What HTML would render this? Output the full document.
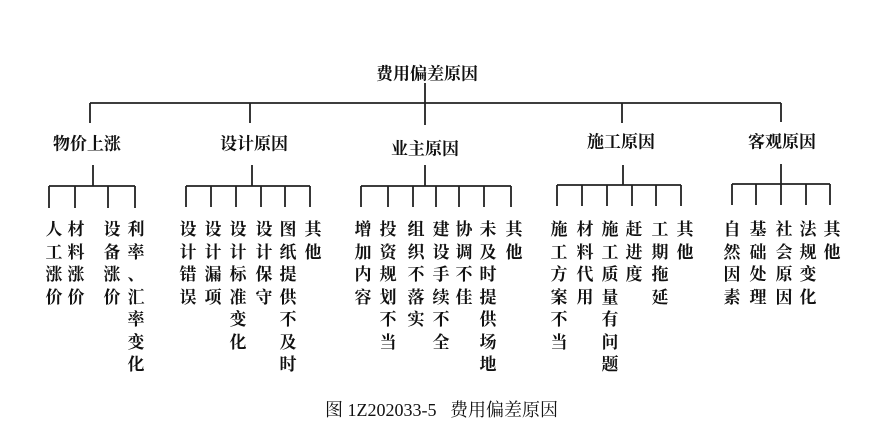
<!DOCTYPE html>
<html><head><meta charset="utf-8"><style>
body{margin:0;background:#fff;}
#c{position:relative;width:883px;height:429px;overflow:hidden;background:#fff;font-family:"Liberation Serif","Noto Serif CJK SC","Noto Sans CJK SC",serif;color:#111;}
.t{position:absolute;font-size:17px;font-weight:bold;white-space:nowrap;transform:translate(-50%,-50%);}
.v{position:absolute;top:219px;width:18px;font-size:17px;line-height:22.5px;font-weight:bold;text-align:center;transform:translateX(-50%);word-break:break-all;}
.cap{position:absolute;left:325px;top:396px;font-size:18px;white-space:pre;}
svg{position:absolute;left:0;top:0;}
</style></head><body><div id="c">
<svg width="883" height="429" stroke="#222" stroke-width="1.8" fill="none">
<path d="M425 83V125M90 103H781M90 103V123M250 103V123M622 103V123M781 103V122"/>
<path d="M93 165V186M49 186H135M49 186V208M75 186V208M108 186V208M135 186V208"/>
<path d="M252 165V186M186 186H310M186 186V207M211 186V207M236 186V207M261 186V207M285 186V207M310 186V207"/>
<path d="M425 165V186M361 186H511M361 186V207M388 186V207M413 186V207M436 186V207M459 186V207M484 186V207M511 186V207"/>
<path d="M623 165V185M557 185H681M557 185V206M582 185V206M607 185V206M632 185V206M656 185V206M681 185V206"/>
<path d="M781 164V184M732 184H830M732 184V205M756 184V205M781 184V205M806 184V205M830 184V205"/>
</svg>
<div class="t" style="left:427px;top:72px">费用偏差原因</div>
<div class="t" style="left:87px;top:142px">物价上涨</div>
<div class="t" style="left:254px;top:142px">设计原因</div>
<div class="t" style="left:425px;top:147px">业主原因</div>
<div class="t" style="left:621px;top:140px">施工原因</div>
<div class="t" style="left:782px;top:140px">客观原因</div>

<div class="v" style="left:54px">人工涨价</div>
<div class="v" style="left:76px">材料涨价</div>
<div class="v" style="left:112px">设备涨价</div>
<div class="v" style="left:136px">利<br>率<br>、<br>汇<br>率<br>变<br>化</div>

<div class="v" style="left:188px">设计错误</div>
<div class="v" style="left:213px">设计漏项</div>
<div class="v" style="left:238px">设计标准变化</div>
<div class="v" style="left:264px">设计保守</div>
<div class="v" style="left:288px">图纸提供不及时</div>
<div class="v" style="left:313px">其他</div>

<div class="v" style="left:363px">增加内容</div>
<div class="v" style="left:388px">投资规划不当</div>
<div class="v" style="left:416px">组织不落实</div>
<div class="v" style="left:441px">建设手续不全</div>
<div class="v" style="left:464px">协调不佳</div>
<div class="v" style="left:488px">未及时提供场地</div>
<div class="v" style="left:514px">其他</div>

<div class="v" style="left:559px">施工方案不当</div>
<div class="v" style="left:585px">材料代用</div>
<div class="v" style="left:610px">施工质量有问题</div>
<div class="v" style="left:634px">赶进度</div>
<div class="v" style="left:660px">工期拖延</div>
<div class="v" style="left:685px">其他</div>

<div class="v" style="left:732px">自然因素</div>
<div class="v" style="left:758px">基础处理</div>
<div class="v" style="left:784px">社会原因</div>
<div class="v" style="left:808px">法规变化</div>
<div class="v" style="left:832px">其他</div>

<div class="cap">图 1Z202033-5   费用偏差原因</div>
</div></body></html>
